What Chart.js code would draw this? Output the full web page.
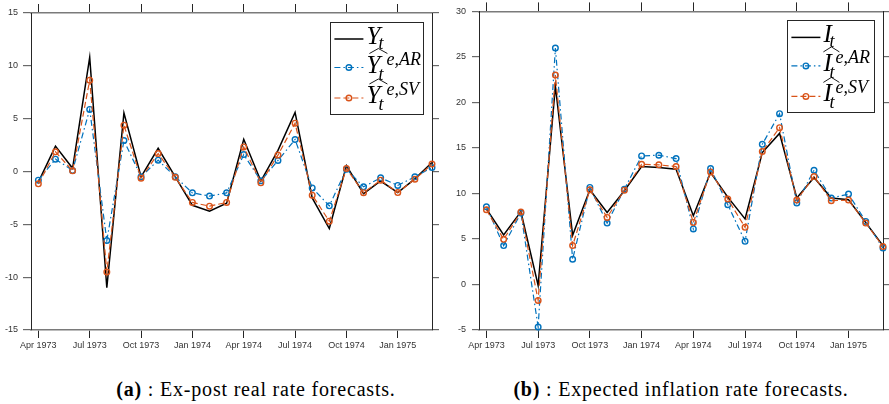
<!DOCTYPE html>
<html>
<head>
<meta charset="utf-8">
<script src="https://cdn.jsdelivr.net/npm/chart.js@4.4.1/dist/chart.umd.min.js"></script>
<style>
  body { margin: 0; background: #fff; width: 889px; height: 404px; position: relative; overflow: hidden; }
  canvas { position: absolute; top: 0; }
  #chartA { left: 0; }
  #chartB { left: 444px; }
  .cap { position: absolute; top: 378px; font: 20px 'Liberation Serif', serif; line-height: 22px; letter-spacing: 0.8px; white-space: nowrap; transform: translateX(-50%); color: #000; }
</style>
</head>
<body>
<canvas id="chartA" width="444" height="360"></canvas>
<canvas id="chartB" width="445" height="360"></canvas>
<div class="cap" style="left:256px"><b>(a)</b> : Ex-post real rate forecasts.</div>
<div class="cap" style="left:681px"><b>(b)</b> : Expected inflation rate forecasts.</div>
<script>
// monthly observations, Apr 1973 .. Mar 1975
const months = ['Apr 1973', 'May 1973', 'Jun 1973', 'Jul 1973', 'Aug 1973', 'Sep 1973',
  'Oct 1973', 'Nov 1973', 'Dec 1973', 'Jan 1974', 'Feb 1974', 'Mar 1974',
  'Apr 1974', 'May 1974', 'Jun 1974', 'Jul 1974', 'Aug 1974', 'Sep 1974',
  'Oct 1974', 'Nov 1974', 'Dec 1974', 'Jan 1975', 'Feb 1975', 'Mar 1975']
const tickIdx = [0, 3, 6, 9, 12, 15, 18, 21]

// (a) ex-post real rate
const realActual = [-1.0, 2.4, 0.3, 10.8, -11.0, 5.55, -0.5, 2.2, -0.5, -3.2, -3.75, -3.0,
  3.05, -0.9, 2.0, 5.6, -2.5, -5.4, 0.55, -2.1, -0.9, -2.0, -0.7, 0.85]
const realAR = [-0.82, 1.17, 0.1, 5.87, -6.53, 2.93, -0.5, 1.07, -0.5, -2.02, -2.33, -2.02,
  1.6, -0.88, 1.04, 3.03, -1.55, -3.25, 0.22, -1.45, -0.6, -1.32, -0.5, 0.38]
const realSV = [-1.17, 1.86, 0.06, 8.64, -9.5, 4.38, -0.63, 1.7, -0.55, -2.93, -3.28, -2.93,
  2.33, -1.07, 1.55, 4.57, -2.24, -4.7, 0.28, -2.0, -0.82, -1.99, -0.73, 0.7]

// (b) expected inflation
const inflActual = [8.3, 5.44, 8.0, -0.1, 21.8, 5.4, 10.4, 7.9, 10.3, 12.96, 12.85, 12.66,
  7.55, 12.3, 9.6, 7.2, 14.5, 16.6, 9.5, 11.75, 9.5, 9.3, 6.8, 4.27]
const inflAR = [8.54, 4.27, 7.85, -4.67, 25.98, 2.77, 10.66, 6.75, 10.47, 14.12, 14.2, 13.83,
  6.1, 12.74, 8.76, 4.74, 15.4, 18.76, 8.94, 12.55, 9.49, 9.93, 6.93, 4.0]
const inflSV = [8.2, 4.96, 7.95, -1.75, 23.0, 4.27, 10.4, 7.37, 10.36, 13.2, 13.14, 12.96,
  6.82, 12.37, 9.38, 6.28, 14.6, 17.23, 9.27, 11.86, 9.2, 9.27, 6.75, 4.16]

// legend labels: base letter, hat, superscript, subscript
const legendA = [
  { base: 'Y', hat: false, sup: '', sub: 't' },
  { base: 'Y', hat: true, sup: 'e,AR', sub: 't' },
  { base: 'Y', hat: true, sup: 'e,SV', sub: 't' }
]
const legendB = [
  { base: 'I', hat: false, sup: '', sub: 't' },
  { base: 'I', hat: true, sup: 'e,AR', sub: 't' },
  { base: 'I', hat: true, sup: 'e,SV', sub: 't' }
]

const BLUE = '#0072BD'
const ORANGE = '#D95319'
const AXIS = '#262626'
const tickFont = { family: "'Liberation Sans', Arial, sans-serif", size: 9 }

const mathLegend = {
  id: 'mathLegend',
  afterDatasetsDraw (chart, args, opts) {
    const ctx = chart.ctx
    const a = chart.chartArea
    const bx = a.right - opts.inset - opts.width
    const by = a.top + opts.inset
    ctx.save()
    ctx.fillStyle = '#fff'
    ctx.fillRect(bx, by, opts.width, opts.height)
    ctx.strokeStyle = AXIS
    ctx.lineWidth = 1
    ctx.strokeRect(Math.round(bx) + 0.5, Math.round(by) + 0.5, Math.round(opts.width), Math.round(opts.height))

    const rowY = [17, 45.5, 76]
    opts.rows.forEach((r, i) => {
      const ds = chart.data.datasets[i]
      const cy = by + rowY[i]
      // line sample
      ctx.strokeStyle = ds.borderColor
      ctx.lineWidth = ds.borderWidth
      ctx.setLineDash(ds.borderDash || [])
      ctx.beginPath()
      ctx.moveTo(bx + 4, cy)
      ctx.lineTo(bx + 33, cy)
      ctx.stroke()
      ctx.setLineDash([])
      if (ds.pointRadius > 0) {
        ctx.lineWidth = ds.pointBorderWidth
        ctx.beginPath()
        ctx.arc(bx + 18.5, cy, ds.pointRadius, 0, Math.PI * 2)
        ctx.stroke()
      }
      // label
      const x0 = bx + 36
      ctx.fillStyle = '#000'
      ctx.textBaseline = 'alphabetic'
      ctx.font = "italic 25px 'Liberation Serif', serif"
      ctx.fillText(r.base, x0, cy + 5)
      if (r.hat) {
        ctx.strokeStyle = '#000'
        ctx.lineWidth = 0.9
        ctx.beginPath()
        ctx.moveTo(x0 + opts.hat[0], cy - 14)
        ctx.lineTo((x0 + opts.hat[0] + x0 + opts.hat[1]) / 2, cy - 19)
        ctx.lineTo(x0 + opts.hat[1], cy - 14)
        ctx.stroke()
      }
      ctx.font = "italic 18px 'Liberation Serif', serif"
      if (r.sup) ctx.fillText(r.sup, x0 + opts.supDx, cy - 3)
      ctx.fillText(r.sub, x0 + opts.subDx, cy + (r.hat ? 12 : 10))
    })
    ctx.restore()
  }
}

function makeChart (id, actual, ar, sv, yMin, yMax, dims, rows) {
  const pts = v => v.map((y, i) => ({ x: i, y }))
  const xTicks = axis => { axis.ticks = tickIdx.map(v => ({ value: v })) }
  const xBase = {
    type: 'linear',
    min: -0.43,
    max: 23,
    afterBuildTicks: xTicks,
    grid: { drawOnChartArea: false, drawTicks: true, color: AXIS, lineWidth: 1 },
    border: { display: true, color: '#7a7a7a', width: 1.6 }
  }
  const yBase = {
    type: 'linear',
    min: yMin,
    max: yMax,
    grid: { drawOnChartArea: false, drawTicks: true, color: '#6a6a6a', lineWidth: 1.2 },
    border: { display: true, color: AXIS, width: 1 }
  }
  return new Chart(document.getElementById(id), {
    type: 'line',
    data: {
      datasets: [
        { data: pts(actual), borderColor: '#000', borderWidth: 1.5, pointRadius: 0, order: 3, clip: false },
        { data: pts(ar), borderColor: BLUE, borderWidth: 1.2, borderDash: [6, 3, 1.5, 3], pointRadius: 2.8,
          pointBorderWidth: 1.4, pointBorderColor: BLUE, pointBackgroundColor: 'rgba(255,255,255,0)', order: 2, clip: false },
        { data: pts(sv), borderColor: ORANGE, borderWidth: 1.2, borderDash: [6, 3], pointRadius: 2.8,
          pointBorderWidth: 1.4, pointBorderColor: ORANGE, pointBackgroundColor: 'rgba(255,255,255,0)', order: 1, clip: false }
      ]
    },
    options: {
      responsive: false,
      animation: false,
      layout: { padding: 0 },
      elements: { line: { tension: 0 } },
      plugins: {
        legend: { display: false },
        tooltip: { enabled: false },
        mathLegend: { rows, inset: 9, width: dims.legendW, height: 92, ...dims.lab }
      },
      scales: {
        x: {
          ...xBase,
          position: 'bottom',
          grid: { ...xBase.grid, tickLength: 8 },
          ticks: { callback: v => months[v], font: tickFont, color: '#333', padding: 2, maxRotation: 0, autoSkip: false },
          afterFit: a => { a.height = 30 }
        },
        x2: {
          ...xBase,
          position: 'top',
          grid: { ...xBase.grid, tickLength: 9 },
          ticks: { display: false },
          afterFit: a => { a.height = dims.top }
        },
        y: {
          ...yBase,
          position: 'left',
          grid: { ...yBase.grid, tickLength: dims.tickL },
          ticks: { stepSize: 5, callback: v => String(v), font: tickFont, color: '#333', padding: dims.padY },
          afterFit: a => { a.width = dims.left }
        },
        y2: {
          ...yBase,
          position: 'right',
          grid: { ...yBase.grid, tickLength: 7 },
          ticks: { stepSize: 5, display: false },
          afterFit: a => { a.width = dims.right }
        }
      }
    },
    plugins: [mathLegend]
  })
}

makeChart('chartA', realActual, realAR, realSV, -15, 15,
  { left: 31, right: 12, top: 13, tickL: 8, padY: 5, legendW: 92.6,
    lab: { supDx: 20, subDx: 12, hat: [3, 21] } }, legendA)
makeChart('chartB', inflActual, inflAR, inflSV, -5, 30,
  { left: 35, right: 6, top: 11, tickL: 7, padY: 6, legendW: 86.6,
    lab: { supDx: 12, subDx: 6, hat: [0, 16] } }, legendB)
</script>
</body>
</html>
